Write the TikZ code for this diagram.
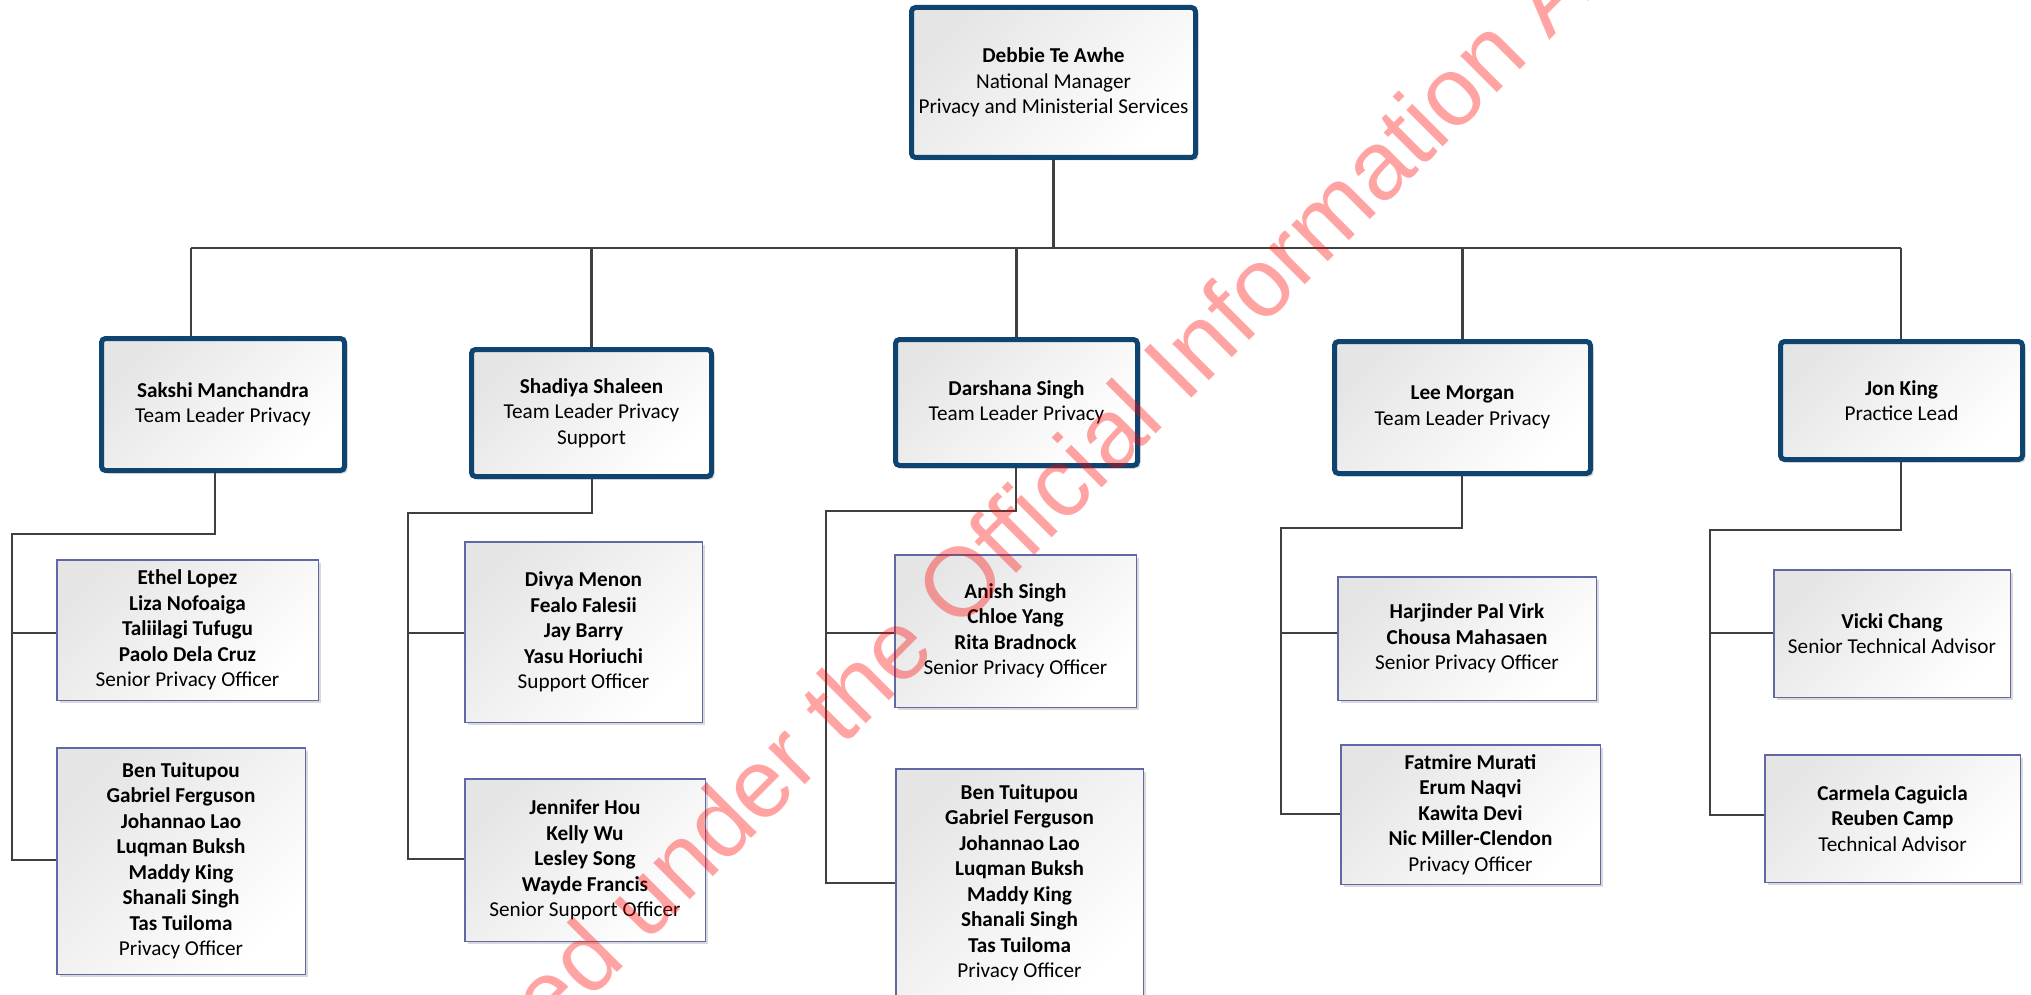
\documentclass[tikz,border=0pt]{standalone}
\usepackage{fontspec}
\setmainfont{Carlito}
\newfontfamily\wmfont{Liberation Sans}
\usetikzlibrary{shadows}
\definecolor{navy}{HTML}{0F4470}
\definecolor{staffblue}{RGB}{95,105,165}
\definecolor{linegrey}{RGB}{64,64,64}
\begin{document}
\begin{tikzpicture}[x=0.5pt,y=-0.5pt,
  txt/.style={font=\fontsize{10.6pt}{12.75pt}\selectfont, align=center, inner sep=0pt},
  shad/.style={drop shadow={shadow xshift=1.5pt, shadow yshift=-1.5pt, fill=black!15, opacity=1}},
  lead/.style={txt, draw=navy, line width=2.5pt, rounded corners=2pt, top color=black!10, bottom color=white, shading angle=45, shad},
  staff/.style={txt, draw=staffblue, line width=0.75pt, top color=black!10, bottom color=white, shading angle=45, shad},
  conn/.style={draw=linegrey, line width=1.4pt},
  boxdim/.style 2 args={minimum width=#1pt, minimum height=#2pt}]
\useasboundingbox (0,0) rectangle (2031,995);
\clip (0,0) rectangle (2031,995);

% top
\node[lead, boxdim={142}{75}] (T) at (1053.5,82.5) {\textbf{Debbie Te Awhe}\\National Manager\\Privacy and Ministerial Services};

% team leaders
\node[lead, boxdim={121.5}{66}] (L1) at (223,404.5) {\textbf{Sakshi Manchandra}\\Team Leader Privacy};
\node[lead, boxdim={120}{63.5}] (L2) at (591.5,413) {\textbf{Shadiya Shaleen}\\Team Leader Privacy\\Support};
\node[lead, boxdim={121}{63}] (L3) at (1016.5,402.5) {\textbf{Darshana Singh}\\Team Leader Privacy};
\node[lead, boxdim={128}{66}] (L4) at (1462.5,407.5) {\textbf{Lee Morgan}\\Team Leader Privacy};
\node[lead, boxdim={121}{59}] (L5) at (1901.5,400.5) {\textbf{Jon King}\\Practice Lead};

% staff
\node[staff, boxdim={130.75}{70.25}] (S11) at (187.5,630) {\textbf{Ethel Lopez}\\\textbf{Liza Nofoaiga}\\\textbf{Taliilagi Tufugu}\\\textbf{Paolo Dela Cruz}\\Senior Privacy Officer};
\node[staff, boxdim={124.25}{113.25}] (S12) at (181,861) {\textbf{Ben Tuitupou}\\\textbf{Gabriel Ferguson}\\\textbf{Johannao Lao}\\\textbf{Luqman Buksh}\\\textbf{Maddy King}\\\textbf{Shanali Singh}\\\textbf{Tas Tuiloma}\\Privacy Officer};
\node[staff, boxdim={118.75}{90.25}] (S21) at (583.5,632) {\textbf{Divya Menon}\\\textbf{Fealo Falesii}\\\textbf{Jay Barry}\\\textbf{Yasu Horiuchi}\\Support Officer};
\node[staff, boxdim={120.25}{81.25}] (S22) at (585,860) {\textbf{Jennifer Hou}\\\textbf{Kelly Wu}\\\textbf{Lesley Song}\\\textbf{Wayde Francis}\\Senior Support Officer};
\node[staff, boxdim={120.75}{76.25}] (S31) at (1015.5,631) {\textbf{Anish Singh}\\\textbf{Chloe Yang}\\\textbf{Rita Bradnock}\\Senior Privacy Officer};
\node[staff, boxdim={123.75}{114.25}] (S32) at (1019.5,883) {\textbf{Ben Tuitupou}\\\textbf{Gabriel Ferguson}\\\textbf{Johannao Lao}\\\textbf{Luqman Buksh}\\\textbf{Maddy King}\\\textbf{Shanali Singh}\\\textbf{Tas Tuiloma}\\Privacy Officer};
\node[staff, boxdim={129.25}{61.75}] (S41) at (1467,638.5) {\textbf{Harjinder Pal Virk}\\\textbf{Chousa Mahasaen}\\Senior Privacy Officer};
\node[staff, boxdim={129.75}{69.75}] (S42) at (1470.5,814.5) {\textbf{Fatmire Murati}\\\textbf{Erum Naqvi}\\\textbf{Kawita Devi}\\\textbf{Nic Miller-Clendon}\\Privacy Officer};
\node[staff, boxdim={118.25}{63.75}] (S51) at (1892,633.5) {\textbf{Vicki Chang}\\Senior Technical Advisor};
\node[staff, boxdim={127.75}{63.75}] (S52) at (1892.5,818.5) {\textbf{Carmela Caguicla}\\\textbf{Reuben Camp}\\Technical Advisor};

% junction coordinates
\coordinate (busL) at (191,248);
\coordinate (busR) at (1901,248);
\coordinate (k1) at (215,534);  \coordinate (t1) at (12,534);
\coordinate (b11) at (12,633);  \coordinate (b12) at (12,860);
\coordinate (k2) at (592,513);  \coordinate (t2) at (408,513);
\coordinate (b21) at (408,633); \coordinate (b22) at (408,859);
\coordinate (k3) at (1016,511); \coordinate (t3) at (826,511);
\coordinate (b31) at (826,633); \coordinate (b32) at (826,883);
\coordinate (k4) at (1462,528); \coordinate (t4) at (1281,528);
\coordinate (b41) at (1281,633); \coordinate (b42) at (1281,814);
\coordinate (k5) at (1901,530); \coordinate (t5) at (1710,530);
\coordinate (b51) at (1710,633); \coordinate (b52) at (1710,815);

% connectors
\draw[conn] (T.south) -- (T.south |- busL);
\draw[conn] (busL) -- (busR);
\draw[conn] (busL) -- (busL |- L1.north);
\draw[conn] (L2.north |- busL) -- (L2.north);
\draw[conn] (L3.north |- busL) -- (L3.north);
\draw[conn] (L4.north |- busL) -- (L4.north);
\draw[conn] (busR) -- (busR |- L5.north);

\draw[conn] (k1 |- L1.south) -- (k1) -- (t1) -- (b12) -- (b12 -| S12.west);
\draw[conn] (b11) -- (b11 -| S11.west);
\draw[conn] (k2 |- L2.south) -- (k2) -- (t2) -- (b22) -- (b22 -| S22.west);
\draw[conn] (b21) -- (b21 -| S21.west);
\draw[conn] (k3 |- L3.south) -- (k3) -- (t3) -- (b32) -- (b32 -| S32.west);
\draw[conn] (b31) -- (b31 -| S31.west);
\draw[conn] (k4 |- L4.south) -- (k4) -- (t4) -- (b42) -- (b42 -| S42.west);
\draw[conn] (b41) -- (b41 -| S41.west);
\draw[conn] (k5 |- L5.south) -- (k5) -- (t5) -- (b52) -- (b52 -| S52.west);
\draw[conn] (b51) -- (b51 -| S51.west);

% watermark
\node[rotate=45, anchor=base, text=red, text opacity=0.36, inner sep=0pt,
      font=\wmfont\fontsize{48.75pt}{58pt}\selectfont] (wm) at (993,597)
      {Released under the Official Information Act};
\end{tikzpicture}
\end{document}
